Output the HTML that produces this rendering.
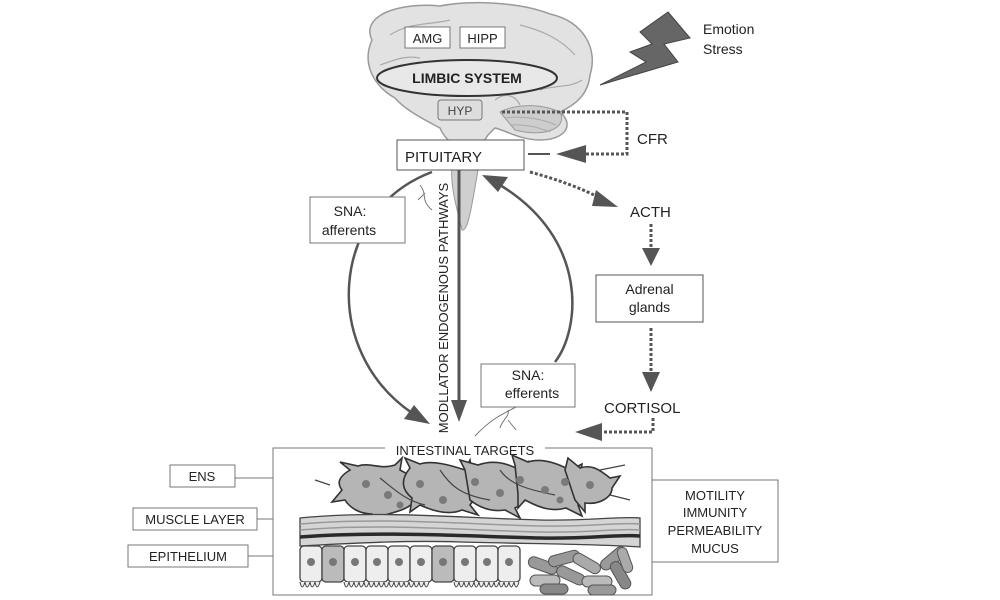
<!DOCTYPE html>
<html><head><meta charset="utf-8"><style>
html,body{margin:0;padding:0;background:#fff;}
svg{display:block;font-family:"Liberation Sans",sans-serif;}
</style></head><body>
<svg width="1000" height="600" viewBox="0 0 1000 600" xmlns="http://www.w3.org/2000/svg">
<!-- brain -->
<path d="M372,40 C360,15 400,2 440,6 C470,0 520,2 550,14 C585,22 598,50 590,75 C588,95 575,105 560,112 C575,125 565,140 540,140 C520,140 505,130 495,128 L488,135 C482,145 476,150 468,150 C458,150 445,140 440,128 C425,120 405,110 395,98 C372,85 362,62 372,40 Z" fill="#e2e2e2" stroke="#9a9a9a" stroke-width="1.5"/>
<path d="M500,112 C520,102 545,105 560,112 C568,128 545,138 515,130 Z" fill="#cdcdcd" stroke="#999"/>
<path d="M505,118 C525,115 545,120 556,125 M510,125 C528,124 540,128 550,132" fill="none" stroke="#aaa"/>
<path d="M452,165 C450,185 456,205 462,230 C468,232 472,205 478,170 Z" fill="#cfcfcf" stroke="#999"/>
<path d="M390,35 C410,22 430,25 450,20 M520,25 C540,30 560,38 575,55 M380,65 C395,60 405,55 420,58 M540,90 C555,85 570,88 582,80 M495,100 C505,92 515,95 520,105" fill="none" stroke="#aaa" stroke-width="1.2"/>
<rect x="405" y="27" width="45" height="21" fill="#fff" stroke="#777"/>
<text x="427.5" y="43" font-size="13" text-anchor="middle" fill="#222">AMG</text>
<rect x="460" y="27" width="45" height="21" fill="#fff" stroke="#777"/>
<text x="482.5" y="43" font-size="13" text-anchor="middle" fill="#222">HIPP</text>
<ellipse cx="467" cy="78" rx="90" ry="18" fill="#e8e8e8" stroke="#333" stroke-width="2"/>
<text x="467" y="83" font-size="14" font-weight="bold" text-anchor="middle" fill="#222">LIMBIC SYSTEM</text>
<rect x="438" y="100" width="44" height="20" rx="3" fill="#ddd" stroke="#777"/>
<text x="460" y="115" font-size="12" text-anchor="middle" fill="#444">HYP</text>
<!-- lightning -->
<polygon points="668,12 690,38 664,44 678,62 600,85 646,62 630,52 652,44 640,32" fill="#666" stroke="#444"/>
<text x="703" y="34" font-size="14" fill="#222">Emotion</text>
<text x="703" y="54" font-size="14" fill="#222">Stress</text>
<!-- CFR -->
<polyline points="502,112 627,112 627,154 586,154" fill="none" stroke="#555" stroke-width="3" stroke-dasharray="3,2"/>
<polygon points="556,154 586,145 586,163" fill="#555"/>
<line x1="528" y1="154" x2="550" y2="154" stroke="#555" stroke-width="2"/>
<text x="637" y="144" font-size="15" fill="#222">CFR</text>
<!-- pituitary -->
<rect x="397" y="140" width="127" height="30" fill="#fff" stroke="#555"/>
<text x="405" y="162" font-size="15" fill="#222">PITUITARY</text>
<!-- ACTH -->
<path d="M530,172 C560,180 585,190 600,198" fill="none" stroke="#555" stroke-width="3" stroke-dasharray="3,2"/>
<polygon points="618,207 596,190 592,206" fill="#555"/>
<text x="630" y="217" font-size="15" fill="#222">ACTH</text>
<line x1="651" y1="224" x2="651" y2="248" stroke="#555" stroke-width="3" stroke-dasharray="3,2"/>
<polygon points="651,266 642,248 660,248" fill="#555"/>
<rect x="596" y="275" width="107" height="47" fill="#fff" stroke="#555"/>
<text x="649.5" y="294" font-size="14" text-anchor="middle" fill="#222">Adrenal</text>
<text x="649.5" y="312" font-size="14" text-anchor="middle" fill="#222">glands</text>
<line x1="651" y1="328" x2="651" y2="372" stroke="#555" stroke-width="3" stroke-dasharray="3,2"/>
<polygon points="651,392 642,372 660,372" fill="#555"/>
<text x="604" y="413" font-size="15" fill="#222">CORTISOL</text>
<polyline points="653,418 653,432 600,432" fill="none" stroke="#555" stroke-width="3" stroke-dasharray="3,2"/>
<polygon points="575,432 602,423 602,441" fill="#555"/>
<!-- arcs -->
<path d="M432,172 C330,210 320,350 412,413" fill="none" stroke="#555" stroke-width="2.5"/>
<polygon points="430,424 404,419 414,405" fill="#555"/>
<path d="M500,185 C590,240 580,330 555,362" fill="none" stroke="#555" stroke-width="2.5"/>
<polygon points="482,175 508,177 498,192" fill="#555"/>
<path d="M420,185 C428,195 420,200 432,210 M425,193 L418,200" fill="none" stroke="#777"/>
<path d="M475,436 C490,420 500,415 520,405 M500,428 C502,420 510,416 508,410 M508,420 L516,430" fill="none" stroke="#777"/>
<!-- vertical -->
<line x1="459" y1="170" x2="459" y2="402" stroke="#555" stroke-width="3"/>
<polygon points="459,422 451,400 467,400" fill="#555"/>
<text transform="translate(448,308) rotate(-90)" font-size="13" text-anchor="middle" fill="#222">MODLLATOR ENDOGENOUS PATHWAYS</text>
<rect x="310" y="197" width="95" height="46" fill="#fff" stroke="#777"/>
<text x="350" y="216" font-size="14" text-anchor="middle" fill="#222">SNA:</text>
<text x="349" y="235" font-size="14" text-anchor="middle" fill="#222">afferents</text>
<rect x="481" y="364" width="94" height="43" fill="#fff" stroke="#777"/>
<text x="528" y="380" font-size="14" text-anchor="middle" fill="#222">SNA:</text>
<text x="532" y="398" font-size="14" text-anchor="middle" fill="#222">efferents</text>
<!-- intestinal box -->
<rect x="273" y="448" width="379" height="147" fill="#fff" stroke="#777"/>
<rect x="385" y="442" width="160" height="14" fill="#fff"/>
<text x="465" y="455" font-size="13" text-anchor="middle" fill="#222">INTESTINAL TARGETS</text>
<!-- ENS network -->
<g stroke="#333" stroke-width="1.6" fill="#b5b5b5">
<path d="M350,470 L340,462 L358,466 C370,462 380,470 395,465 L402,458 L400,470 C412,476 420,482 415,495 L428,500 L412,504 C405,510 395,512 385,515 L378,524 L372,514 C360,514 350,508 345,500 L332,502 L342,490 C336,482 340,476 350,470 Z"/>
<path d="M410,468 L405,458 L420,464 C432,460 450,465 465,470 L470,460 L472,474 C482,480 478,495 470,505 L478,515 L462,510 C450,515 435,512 420,505 L410,512 L412,498 C402,490 400,480 410,468 Z"/>
<path d="M465,470 L460,460 L478,465 C492,460 505,462 520,470 L528,462 L527,476 C535,485 530,500 515,508 L520,518 L505,510 C492,512 480,508 470,500 Z"/>
<path d="M515,465 L512,455 L528,462 C540,458 555,462 570,470 L582,464 L580,476 C592,482 592,495 578,505 L582,516 L566,508 C552,512 540,508 525,500 L518,508 L518,494 Z"/>
<path d="M565,470 L568,458 L580,468 C592,464 600,470 610,478 L620,476 L612,488 C612,497 600,505 585,503 L585,512 L575,500 Z"/>
</g>
<g fill="none" stroke="#444" stroke-width="1.2">
<path d="M380,478 C395,490 405,500 425,505 M440,470 C450,485 460,495 490,500 M500,470 C510,485 530,490 555,495 M330,485 L315,480 M600,470 L625,465 M610,495 L630,500"/>
</g>
<g fill="#7a7a7a">
<circle cx="366" cy="484" r="4"/><circle cx="388" cy="495" r="4"/><circle cx="420" cy="484" r="4"/><circle cx="443" cy="500" r="4"/><circle cx="475" cy="482" r="4"/><circle cx="500" cy="493" r="4"/><circle cx="520" cy="480" r="4"/><circle cx="545" cy="490" r="4"/><circle cx="565" cy="482" r="4"/><circle cx="590" cy="485" r="4"/><circle cx="560" cy="500" r="3.5"/><circle cx="400" cy="505" r="3.5"/>
</g>
<!-- muscle layer -->
<path d="M300,518 C380,510 460,518 540,520 C590,521 620,516 640,518 L640,547 C600,544 540,544 460,542 C400,540 340,544 300,546 Z" fill="#d5d5d5" stroke="#444" stroke-width="1.3"/>
<path d="M300,524 C380,517 460,524 540,526 C590,527 620,522 640,524" fill="none" stroke="#999" stroke-width="1.5"/>
<path d="M300,530 C380,523 460,530 540,532 C590,533 620,528 640,530" fill="none" stroke="#999" stroke-width="1.5"/>
<path d="M300,537 C380,531 460,536 540,538 C590,539 620,534 640,536" fill="none" stroke="#2a2a2a" stroke-width="3.5"/>
<!-- epithelium -->
<g stroke="#444" stroke-width="1.3" fill="#eee">
<rect x="300" y="546" width="22" height="36" rx="4"/><rect x="322" y="546" width="22" height="36" rx="4" fill="#bbb"/><rect x="344" y="546" width="22" height="36" rx="4"/><rect x="366" y="546" width="22" height="36" rx="4"/><rect x="388" y="546" width="22" height="36" rx="4"/><rect x="410" y="546" width="22" height="36" rx="4"/><rect x="432" y="546" width="22" height="36" rx="4" fill="#bbb"/><rect x="454" y="546" width="22" height="36" rx="4"/><rect x="476" y="546" width="22" height="36" rx="4"/><rect x="498" y="546" width="22" height="36" rx="4"/>
</g>
<path d="M300,582 q2,10 5,0 q2,10 5,0 q2,10 5,0 q2,10 5,0 M344,582 q2,10 5,0 q2,10 5,0 q2,10 5,0 q2,10 5,0 q2,10 5,0 q2,10 5,0 q2,10 5,0 q2,10 5,0 q2,10 5,0 q2,10 5,0 q2,10 5,0 q2,10 5,0 q2,10 5,0 q2,10 5,0 q2,10 5,0 q2,10 5,0 q2,10 5,0 M454,582 q2,10 5,0 q2,10 5,0 q2,10 5,0 q2,10 5,0 q2,10 5,0 q2,10 5,0 q2,10 5,0 q2,10 5,0 q2,10 5,0 q2,10 5,0 q2,10 5,0 q2,10 5,0 q2,10 5,0" fill="#eee" stroke="#444" stroke-width="1"/>
<g fill="#777">
<circle cx="311" cy="562" r="4"/><circle cx="333" cy="562" r="4"/><circle cx="355" cy="562" r="4"/><circle cx="377" cy="562" r="4"/><circle cx="399" cy="562" r="4"/><circle cx="421" cy="562" r="4"/><circle cx="443" cy="562" r="4"/><circle cx="465" cy="562" r="4"/><circle cx="487" cy="562" r="4"/><circle cx="509" cy="562" r="4"/>
</g>
<!-- bacteria -->
<g stroke="#555" stroke-width="1" fill="#999">
<rect x="528" y="560" width="30" height="11" rx="5.5" transform="rotate(20 543 565)"/>
<rect x="548" y="553" width="32" height="11" rx="5.5" transform="rotate(-15 564 558)"/>
<rect x="572" y="558" width="30" height="11" rx="5.5" transform="rotate(30 587 563)" fill="#aaa"/>
<rect x="598" y="553" width="30" height="11" rx="5.5" transform="rotate(-40 613 558)"/>
<rect x="530" y="575" width="30" height="11" rx="5.5" fill="#bbb"/>
<rect x="556" y="570" width="30" height="11" rx="5.5" transform="rotate(25 571 575)"/>
<rect x="582" y="576" width="30" height="11" rx="5.5" fill="#bbb"/>
<rect x="606" y="570" width="30" height="11" rx="5.5" transform="rotate(60 621 575)" fill="#888"/>
<rect x="540" y="584" width="28" height="10" rx="5" fill="#888"/>
<rect x="588" y="585" width="28" height="10" rx="5"/>
<rect x="612" y="555" width="26" height="10" rx="5" transform="rotate(70 625 560)" fill="#aaa"/>
</g>
<!-- left labels -->
<rect x="170" y="465" width="65" height="22" fill="#fff" stroke="#777"/>
<text x="202" y="481" font-size="13" text-anchor="middle" fill="#222">ENS</text>
<line x1="235" y1="478" x2="273" y2="478" stroke="#777"/>
<rect x="133" y="508" width="124" height="22" fill="#fff" stroke="#777"/>
<text x="195" y="524" font-size="13" text-anchor="middle" fill="#222">MUSCLE LAYER</text>
<line x1="257" y1="519" x2="273" y2="519" stroke="#777"/>
<rect x="128" y="545" width="120" height="22" fill="#fff" stroke="#777"/>
<text x="188" y="561" font-size="13" text-anchor="middle" fill="#222">EPITHELIUM</text>
<line x1="248" y1="556" x2="273" y2="556" stroke="#777"/>
<!-- right box -->
<rect x="652" y="480" width="126" height="82" fill="#fff" stroke="#777"/>
<text x="715" y="500" font-size="13" text-anchor="middle" fill="#222">MOTILITY</text>
<text x="715" y="517" font-size="13" text-anchor="middle" fill="#222">IMMUNITY</text>
<text x="715" y="535" font-size="13" text-anchor="middle" fill="#222">PERMEABILITY</text>
<text x="715" y="553" font-size="13" text-anchor="middle" fill="#222">MUCUS</text>
</svg>
</body></html>
